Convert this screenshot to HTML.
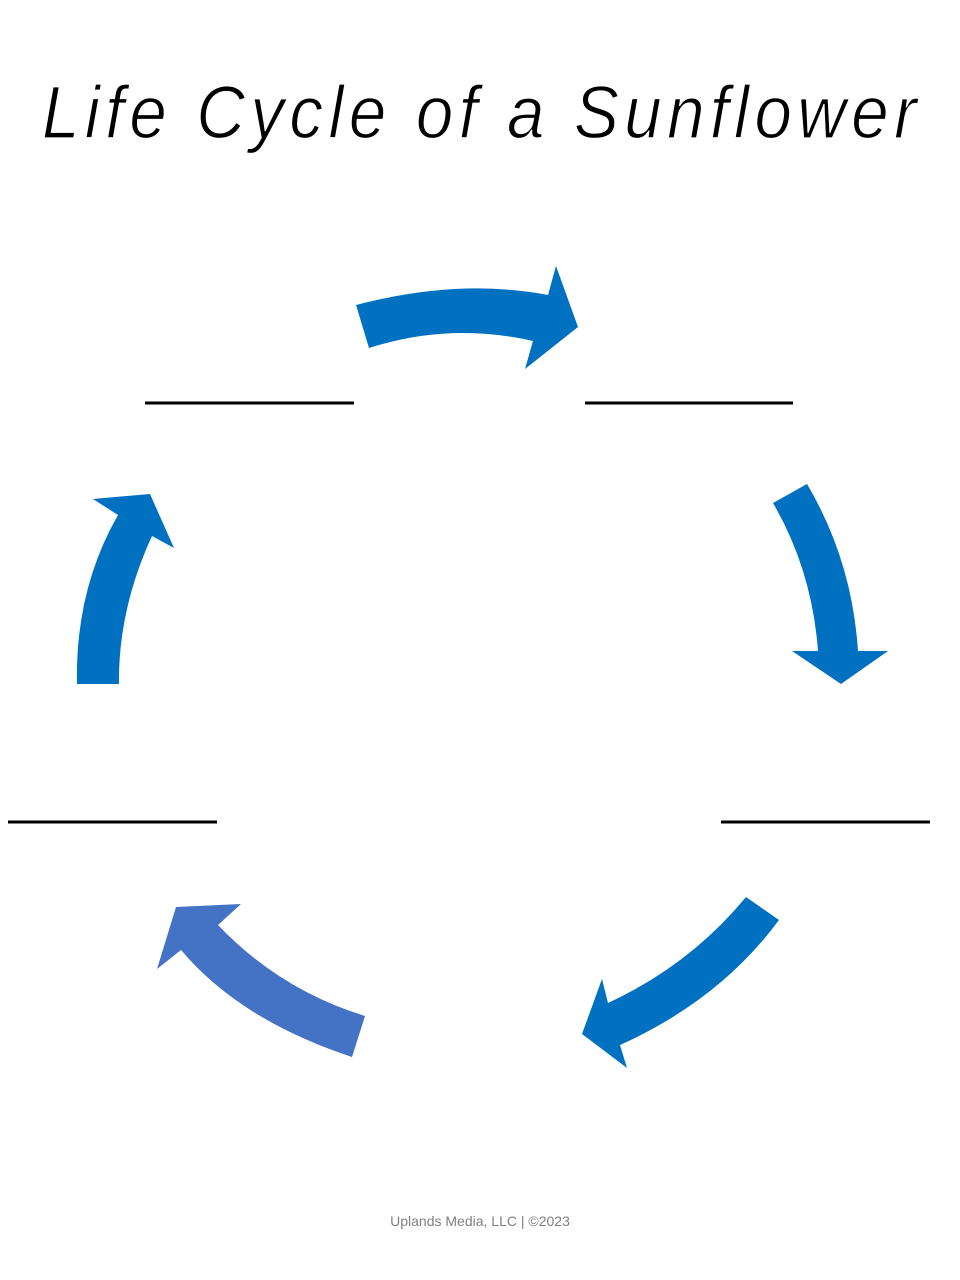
<!DOCTYPE html>
<html><head><meta charset="utf-8"><style>html,body{margin:0;padding:0;background:#fff}svg{display:block}</style></head>
<body>
<svg width="960" height="1280" viewBox="0 0 960 1280" xmlns="http://www.w3.org/2000/svg">
<text x="42" y="138" font-family="Liberation Sans, sans-serif" font-style="italic" font-size="74" letter-spacing="6" textLength="880" lengthAdjust="spacingAndGlyphs" fill="#000" stroke="#fff" stroke-width="1.2">Life Cycle of a Sunflower</text>
<g fill="#0070c0">
<path d="M356,305 Q460,278 548,295 L556,266 L578,327 L525,369 L533,341 Q450,322 369,348 Z"/>
<path d="M773,503 L807,484 Q852,560 858,651 L888,651 L841,684 L792,651 L818,651 Q812,570 773,503 Z"/>
<path d="M746,897 L779,920 Q720,1000 620,1045 L627,1068 L582,1034 L602,979 L608,1003 Q690,965 746,897 Z"/>
<path d="M77,684 L119,684 Q118,610 152,536 L174,548 L150,494 L93,499 L118,515 Q75,590 77,684 Z"/>
</g>
<path fill="#4472c4" d="M365,1016 L352,1057 Q240,1020 181,950 L157,969 L176,907 L241,904 L218,925 Q280,990 365,1016 Z"/>
<g stroke="#000" stroke-width="3">
<line x1="145" y1="403" x2="354" y2="403"/>
<line x1="585" y1="403" x2="793" y2="403"/>
<line x1="8" y1="822" x2="217" y2="822"/>
<line x1="721" y1="822" x2="930" y2="822"/>
</g>
<text x="480" y="1226" text-anchor="middle" font-family="Liberation Sans, sans-serif" font-size="14" fill="#808080">Uplands Media, LLC | ©2023</text>
</svg>
</body></html>
